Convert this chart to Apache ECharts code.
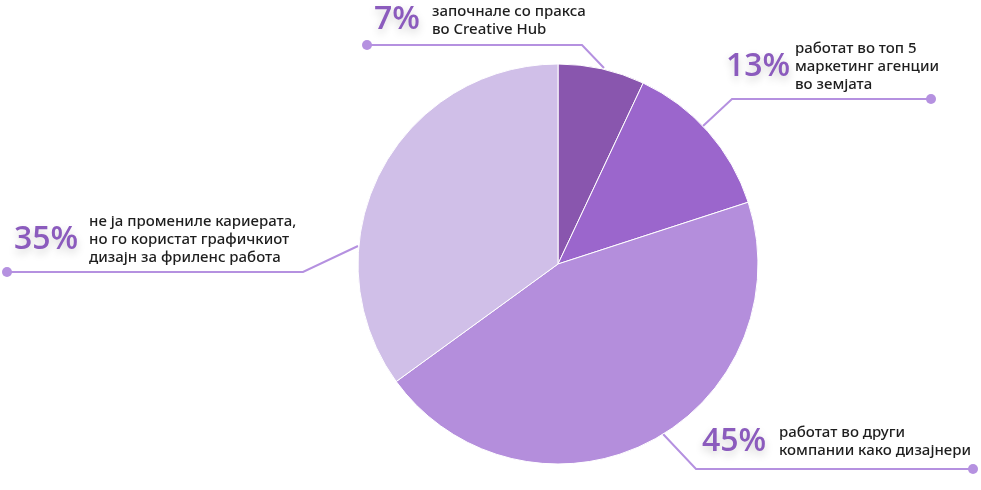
<!DOCTYPE html>
<html>
<head>
<meta charset="utf-8">
<script src="https://cdn.jsdelivr.net/npm/echarts@6/dist/echarts.min.js"></script>
<style>
html,body{margin:0;padding:0;background:#fff;}
#chart{width:981px;height:490px;}
</style>
</head>
<body>
<div id="chart"></div>
<script>
const categories = [
  'започнале со пракса\nво Creative Hub',
  'работат во топ 5\nмаркетинг агенции\nво земјата',
  'работат во други\nкомпании како дизајнери',
  'не ја промениле кариерата,\nно го користат графичкиот\nдизајн за фриленс работа'
];
const values = [7, 13, 45, 35];
const sliceColors = ['#8956ae', '#9b66cc', '#b48edc', '#d0bfe8'];

// label placement (layout only), order follows data
const pctPos = [[374, 20], [726, 67], [702, 442], [14, 240]];
const descPos = [[432, 21], [795, 67], [779, 442], [89, 240]];
const leaderLines = [
  [[604, 68], [582, 45], [367, 45]],
  [[703, 126], [732, 99], [931, 99]],
  [[663, 434], [696, 469], [973, 469]],
  [[358, 246], [303, 272], [7, 272]]
];

const chart = echarts.init(document.getElementById('chart'), null, {renderer: 'canvas'});
const pieData = values.map((v, i) => ({value: v, name: categories[i], itemStyle: {color: sliceColors[i]}}));

chart.setOption({
  animation: false,
  series: [
    {
      type: 'pie',
      center: [558, 264],
      radius: 200,
      startAngle: 90,
      clockwise: true,
      data: pieData,
      itemStyle: {borderColor: '#ffffff', borderWidth: 1},
      emphasis: {disabled: true},
      label: {
        show: true,
        formatter: p => p.value + '%',
        fontFamily: 'Open Sans',
        fontWeight: 600,
        fontSize: 32,
        color: '#8b5bbd',
        textShadowColor: 'rgba(0,0,0,0.18)',
        textShadowBlur: 8,
        textShadowOffsetY: 4
      },
      labelLine: {show: true, lineStyle: {color: '#b591e0', width: 2}},
      labelLayout: function (params) {
        const i = params.dataIndex;
        return {
          x: pctPos[i][0], y: pctPos[i][1],
          align: 'left', verticalAlign: 'middle',
          labelLinePoints: leaderLines[i]
        };
      }
    },
    {
      type: 'pie',
      center: [558, 264],
      radius: 200,
      startAngle: 90,
      clockwise: true,
      silent: true,
      data: values.map((v, i) => ({value: v, name: categories[i]})),
      itemStyle: {color: 'rgba(0,0,0,0)', borderWidth: 0},
      emphasis: {disabled: true},
      label: {
        show: true,
        formatter: p => p.name,
        fontFamily: 'Noto Sans',
        fontWeight: 500,
        fontSize: 15,
        lineHeight: 18,
        color: '#1e1e1e'
      },
      labelLine: {show: false},
      labelLayout: function (params) {
        const i = params.dataIndex;
        return {x: descPos[i][0], y: descPos[i][1], align: 'left', verticalAlign: 'middle'};
      }
    }
  ],
  graphic: leaderLines.map(pts => ({
    type: 'circle',
    shape: {cx: pts[2][0], cy: pts[2][1], r: 5},
    style: {fill: '#b591e0'},
    z: 10
  }))
});
</script>
</body>
</html>
